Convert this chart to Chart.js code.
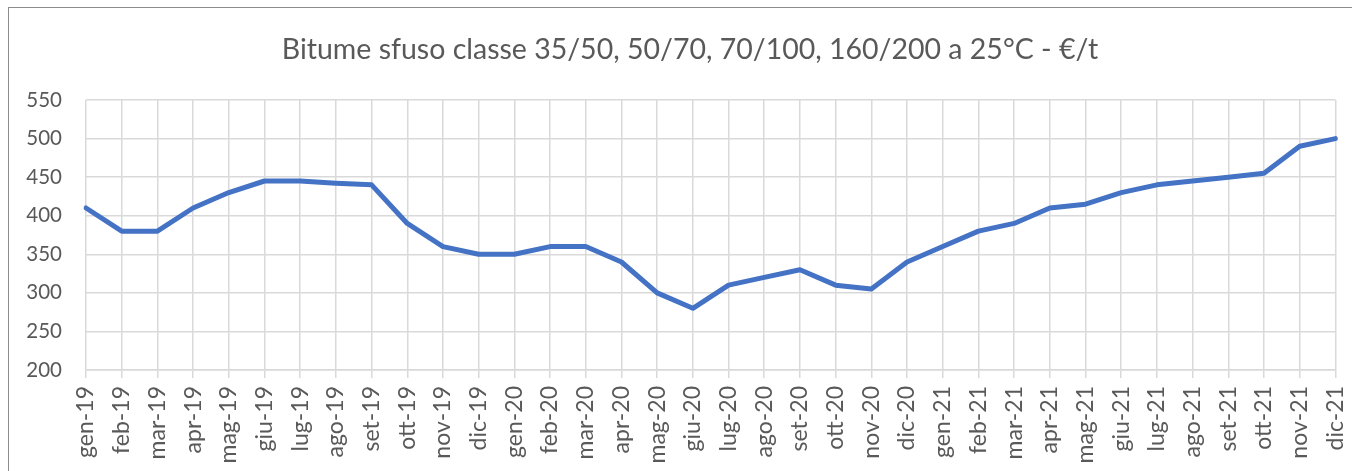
<!DOCTYPE html>
<html><head><meta charset="utf-8">
<script src="https://cdn.jsdelivr.net/npm/chart.js@4/dist/chart.umd.min.js"></script>
<style>
html,body{margin:0;padding:0;background:#fff;overflow:hidden;width:1352px;height:471px;}
#box{position:absolute;left:8px;top:7px;width:1400px;height:500px;border:1.5px solid #8c8c8c;box-sizing:border-box;}
#wrap{position:absolute;left:9px;top:8px;width:1362px;height:463px;}
</style></head>
<body>
<div id="box"></div>
<div id="wrap"><canvas id="c" width="1362" height="463"></canvas></div>
<script>
const chartTitle = "Bitume sfuso classe 35/50, 50/70, 70/100, 160/200 a 25°C - €/t";
const months = ["gen-19","feb-19","mar-19","apr-19","mag-19","giu-19","lug-19","ago-19","set-19","ott-19","nov-19","dic-19",
"gen-20","feb-20","mar-20","apr-20","mag-20","giu-20","lug-20","ago-20","set-20","ott-20","nov-20","dic-20",
"gen-21","feb-21","mar-21","apr-21","mag-21","giu-21","lug-21","ago-21","set-21","ott-21","nov-21","dic-21"];
const prices = [410,380,380,410,430,445,445,442,440,390,360,350,
350,360,360,340,300,280,310,320,330,310,305,340,
360,380,390,410,415,430,440,445,450,455,490,500];
const yMin = 200, yMax = 550, yStep = 50;

const txt = '#595959';
new Chart(document.getElementById('c'), {
  type: 'line',
  data: { labels: months, datasets: [{ data: prices, yAxisID: 'y', borderColor: '#4472C4', borderWidth: 5, pointRadius: 0, tension: 0, fill: false, borderJoinStyle: 'round', borderCapStyle: 'round' }] },
  options: {
    responsive: false, animation: false,
    layout: { padding: { left: 0, right: 0, top: 18, bottom: 0 } },
    plugins: {
      legend: { display: false }, tooltip: { enabled: false },
      title: { display: true, text: chartTitle, color: txt, font: { family: 'Lato', size: 28.5, weight: 'normal' }, padding: { top: 7, bottom: 32.8 } }
    },
    scales: {
      x: {
        offset: false,
        grid: { color: '#d9d9d9', lineWidth: 1.5, tickLength: 8, tickColor: '#d9d9d9' },
        border: { color: '#d9d9d9', width: 1.5 },
        ticks: { color: txt, font: { family: 'Lato', size: 23 }, minRotation: 90, maxRotation: 90, autoSkip: false, padding: 8 },
        afterFit: s => { s.height = 101; }
      },
      y: {
        min: yMin, max: yMax,
        grid: { color: '#d9d9d9', lineWidth: 1.5, drawTicks: false },
        border: { display: false },
        ticks: { stepSize: yStep, color: txt, font: { family: 'Lato', size: 20.5 }, padding: 24 },
        afterFit: s => { s.width = 77; }
      },
      spacer: {
        type: 'linear', position: 'right', display: true, min: yMin, max: yMax,
        grid: { drawOnChartArea: false, drawTicks: false, display: false },
        border: { display: false },
        ticks: { display: false },
        afterFit: s => { s.width = 30; }
      }
    }
  }
});
</script>
</body></html>
